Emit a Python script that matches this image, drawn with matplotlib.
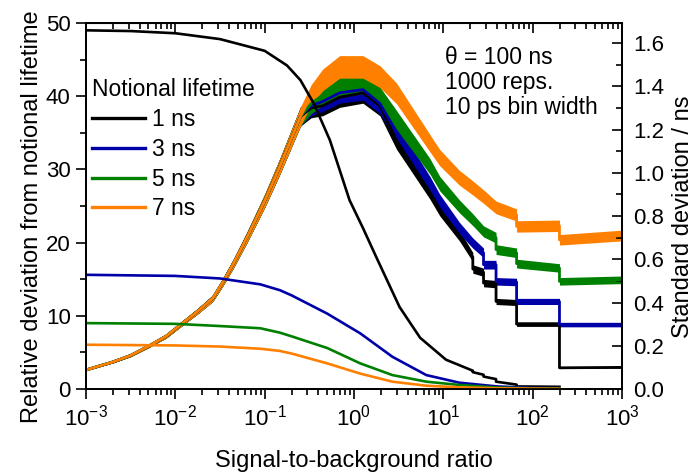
import numpy as np
import matplotlib
matplotlib.use("Agg")
import matplotlib.pyplot as plt
from matplotlib.ticker import FixedLocator, MultipleLocator, LogLocator, FormatStrFormatter

plt.rcParams['font.family'] = ['Liberation Sans', 'DejaVu Sans']
plt.rcParams['mathtext.fontset'] = 'custom'
plt.rcParams['mathtext.rm'] = 'Liberation Sans'
plt.rcParams['mathtext.it'] = 'Liberation Sans:italic'
plt.rcParams['mathtext.bf'] = 'Liberation Sans:bold'

# relative deviation (left axis), smooth curves; x given as log10(SBR)
rel_log = [-3, -2.5, -2, -1.5, -1, -0.75, -0.6, -0.45, -0.27, -0.05, 0.1, 0.25, 0.51, 0.74,
           1.03, 1.33, 1.33, 1.45, 1.45, 1.59, 1.59, 1.82, 1.82, 2.3]
rel_1ns = [49.0, 48.9, 48.6, 47.8, 46.2, 44.2, 42.2, 39.0, 34.0, 25.8, 22.0, 18.0, 11.2, 7.0,
           4.0, 2.5, 2.3, 1.95, 1.7, 1.35, 1.0, 0.6, 0.35, 0.3]

rel_log2 = [-3, -2, -1.5, -1.05, -0.83, -0.7, -0.3, 0.07, 0.43, 0.81, 1.18, 1.6, 2.0, 2.3]
rel_3ns = [15.6, 15.45, 15.1, 14.3, 13.5, 12.8, 10.3, 7.6, 4.4, 1.9, 0.86, 0.35, 0.15, 0.1]
rel_5ns = [9.0, 8.9, 8.6, 8.3, 7.7, 7.2, 5.6, 3.5, 1.9, 1.0, 0.55, 0.2, 0.08, 0.05]
rel_7ns = [6.05, 5.95, 5.8, 5.5, 5.2, 4.85, 3.5, 2.1, 1.0, 0.45, 0.23, 0.1, 0.05, 0.03]

# standard deviation (right axis), noisy curves
sd_log = [-3, -2.7, -2.5, -2.3, -2.1, -1.95, -1.75, -1.58, -1.46, -1.35, -1.2, -1.0, -0.83,
          -0.7, -0.6, -0.48, -0.35, -0.16, 0.1, 0.29, 0.475, 0.85, 0.96, 1.18, 1.33, 1.33,
          1.45, 1.45, 1.59, 1.59, 1.82, 1.82, 2.3, 2.3, 3.0]
rise = [0.088, 0.125, 0.155, 0.198, 0.245, 0.295, 0.36, 0.42, 0.50, 0.58, 0.70, 0.87, 1.03,
        1.16, 1.26]
sd_1ns = rise + [1.30, 1.31, 1.35, 1.37, 1.31, 1.15, 0.91, 0.83, 0.71, 0.61, 0.555, 0.54, 0.49,
                 0.485, 0.405, 0.40, 0.30, 0.30, 0.098, 0.10]
sd_3ns = rise + [1.31, 1.33, 1.37, 1.385, 1.32, 1.19, 0.95, 0.87, 0.745, 0.675, 0.675, 0.63,
                 0.575, 0.575, 0.498, 0.495, 0.405, 0.405, 0.298, 0.298]
sd_5ns = rise + [1.32, 1.36, 1.40, 1.415, 1.35, 1.245, 1.03, 0.95, 0.845, 0.783, 0.783, 0.729,
                 0.729, 0.70, 0.645, 0.63, 0.58, 0.56, 0.498, 0.505]
sd_7ns = rise + [1.36, 1.43, 1.49, 1.49, 1.445, 1.368, 1.137, 1.07, 0.977, 0.93, 0.93, 0.89,
                 0.89, 0.84, 0.84, 0.805, 0.752, 0.755, 0.69, 0.71]

labels = ['1 ns', '3 ns', '5 ns', '7 ns']
colors = ['#000000', '#0000a8', '#008000', '#ff8000']
x_ticks = [1e-3, 1e-2, 1e-1, 1e0, 1e1, 1e2, 1e3]
left_ticks = [0, 10, 20, 30, 40, 50]
right_ticks = [0, 0.2, 0.4, 0.6, 0.8, 1.0, 1.2, 1.4, 1.6]

fig = plt.figure(figsize=(6.98, 4.74), dpi=100)
ax = fig.add_axes([86/698, 85/474, 536/698, 366/474])
ax2 = ax.twinx()

# noisy std-dev curves as a narrow band
x_sd = 10 ** np.array(sd_log)
for vals, c in zip([sd_1ns, sd_3ns, sd_5ns, sd_7ns], colors):
    v = np.array(vals)
    ax2.fill_between(x_sd, v * 0.965, v * 1.035, color=c, lw=0)
    ax2.plot(x_sd, v, color=c, lw=2.0)

ax.plot(10 ** np.array(rel_log), rel_1ns, color=colors[0], lw=1.9, label=labels[0])
for vals, c, lab in zip([rel_3ns, rel_5ns, rel_7ns], colors[1:], labels[1:]):
    ax.plot(10 ** np.array(rel_log2), vals, color=c, lw=1.9, label=lab)

ax.set_zorder(ax2.get_zorder() + 1)
ax.patch.set_visible(False)

ax.set_xscale('log')
ax.set_xlim(1e-3, 1e3)
ax.set_ylim(0, 50)
ax2.set_ylim(0, 1.693)
ax.yaxis.set_major_locator(FixedLocator(left_ticks))
ax.yaxis.set_minor_locator(MultipleLocator(5))
ax2.yaxis.set_major_locator(FixedLocator(right_ticks))
ax2.yaxis.set_minor_locator(MultipleLocator(0.1))
ax2.yaxis.set_major_formatter(FormatStrFormatter('%.1f'))
ax.xaxis.set_major_locator(FixedLocator(x_ticks))
ax.xaxis.set_minor_locator(LogLocator(base=10, subs=np.arange(2, 10), numticks=10))

for a in (ax, ax2):
    for s in a.spines.values():
        s.set_linewidth(1.3)
ax.tick_params(which='major', direction='out', length=7, width=1.2, labelsize=16, pad=4)
ax.tick_params(which='minor', direction='out', length=4, width=1.2)
ax2.tick_params(which='major', direction='in', length=7, width=1.2, labelsize=16, pad=8)
ax2.tick_params(which='minor', direction='in', length=4, width=1.2)

top = ax.secondary_xaxis('top')
top.xaxis.set_major_locator(FixedLocator(x_ticks))
top.tick_params(which='major', direction='in', length=7, width=1.2, labeltop=False)
top.tick_params(which='minor', direction='in', length=4, width=1.2)

ax.set_xlabel('Signal-to-background ratio', fontsize=17, labelpad=14)
ax.set_ylabel('Relative deviation from notional lifetime', fontsize=17, labelpad=2)
ax.yaxis.label.set_y(0.47)
ax2.set_ylabel('Standard deviation / ns', fontsize=17, labelpad=6)
ax2.yaxis.label.set_y(0.47)

leg = ax.legend(title='Notional lifetime', loc='upper left', bbox_to_anchor=(0.012, 0.85),
                frameon=False, fontsize=16.5, title_fontsize=16.5, handlelength=2.3,
                handletextpad=0.3, labelspacing=0.3, borderaxespad=0, borderpad=0,
                alignment='left')
for h in leg.get_lines():
    h.set_linewidth(2.4)

ax.text(0.67, 0.937, 'θ = 100 ns\n1000 reps.\n10 ps bin width', transform=ax.transAxes,
        fontsize=16.5, va='top', ha='left', linespacing=1.12)

fig.savefig('out.png', dpi=100)
